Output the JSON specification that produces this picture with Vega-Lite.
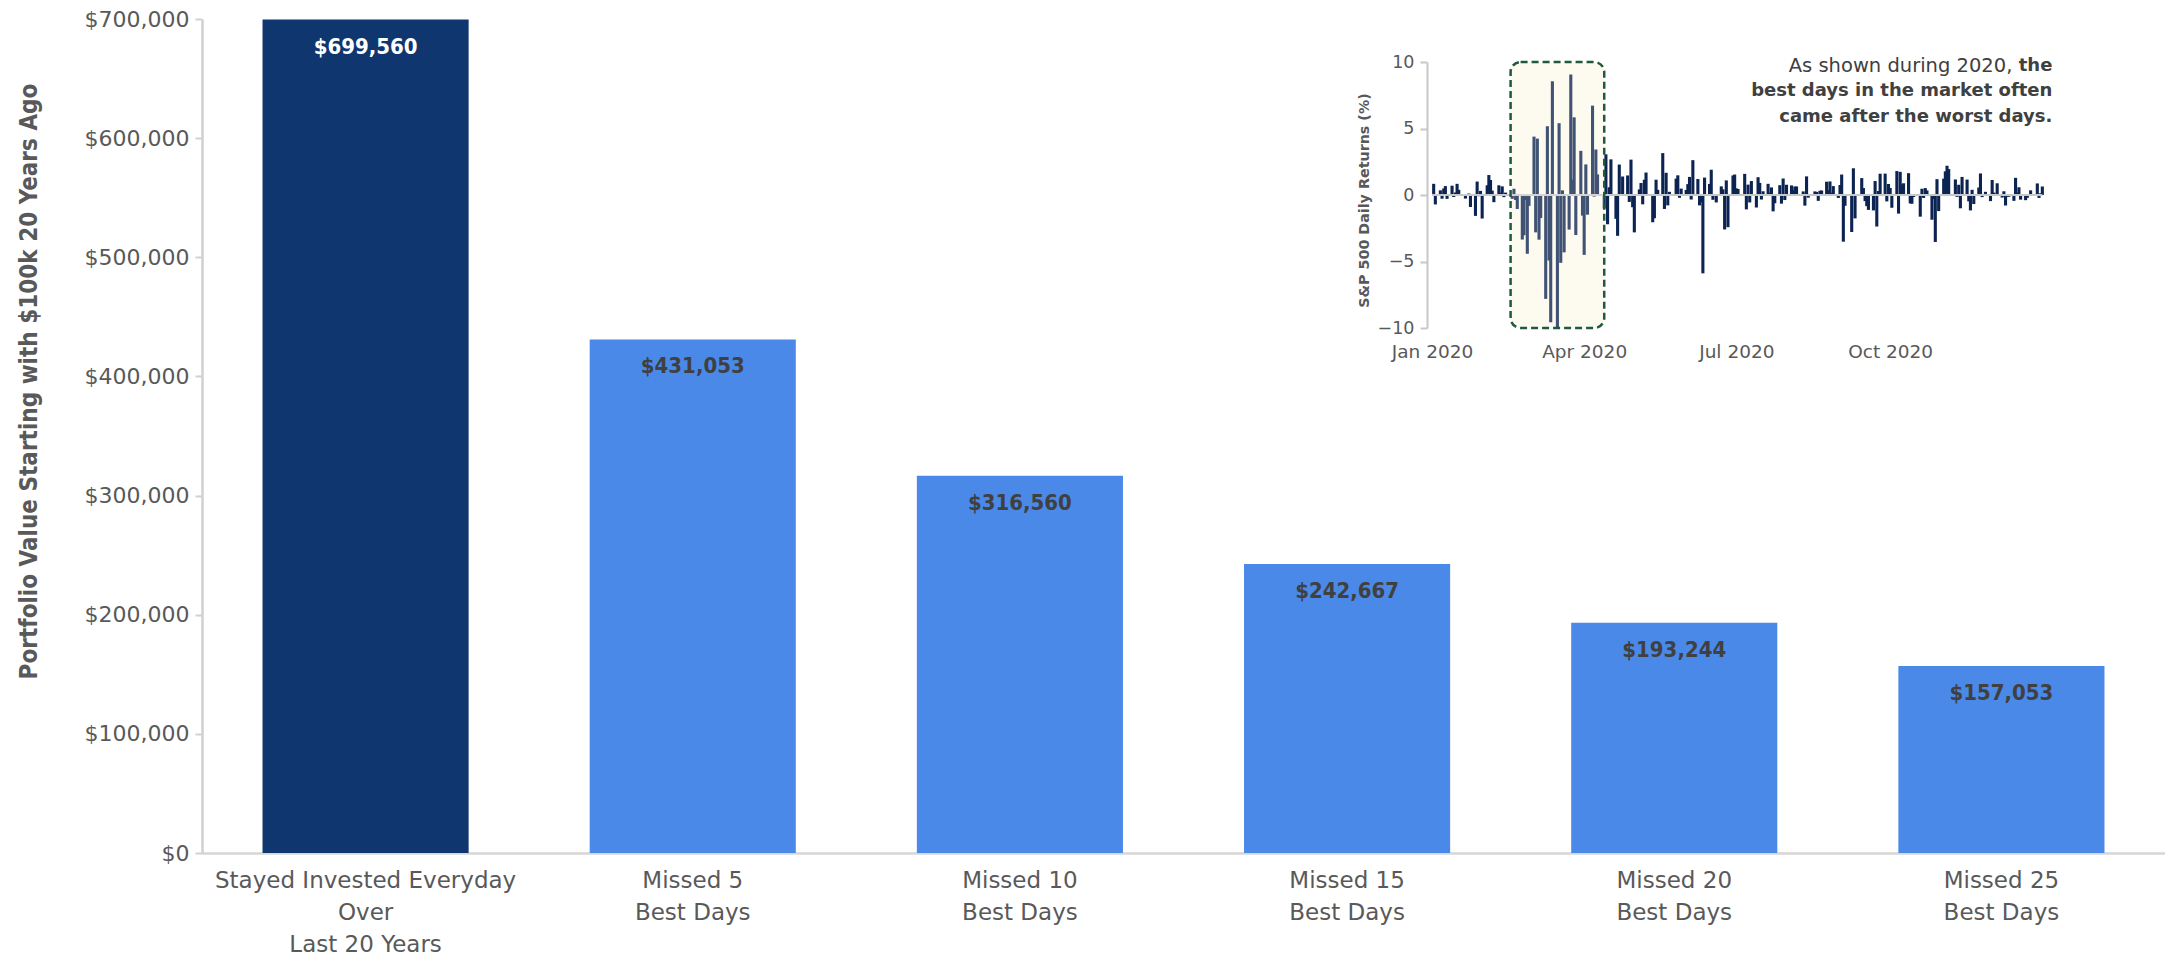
{
 "$schema": "https://vega.github.io/schema/vega-lite/v6.json",
 "width": 1963,
 "height": 834,
 "autosize": {"type": "none"},
 "padding": {"left": 202, "top": 19, "right": 0, "bottom": 102},
 "background": "#ffffff",
 "config": {"view": {"stroke": null}, "axis": {"grid": false}},
 "datasets": {
  "bars": [
   {"category": "Stayed Invested Everyday|Over|Last 20 Years", "group": "Invested", "value": 699560},
   {"category": "Missed 5|Best Days", "group": "Missed", "value": 431053},
   {"category": "Missed 10|Best Days", "group": "Missed", "value": 316560},
   {"category": "Missed 15|Best Days", "group": "Missed", "value": 242667},
   {"category": "Missed 20|Best Days", "group": "Missed", "value": 193244},
   {"category": "Missed 25|Best Days", "group": "Missed", "value": 157053}
  ],
  "box": [{"start": "2020-02-17", "end": "2020-04-13", "top": 10.1, "bottom": -10.3}],
  "annot_regular": [{"date": "2021-01-06", "v": 9.7, "t": "As shown during 2020,"}],
  "annot_bold": [
   {"date": "2021-01-06", "v": 9.7, "t": "the"},
   {"date": "2021-01-06", "v": 7.8, "t": "best days in the market often"},
   {"date": "2021-01-06", "v": 5.85, "t": "came after the worst days."}
  ],
  "returns": [
   {"date":"2020-01-02","ret":0.84},{"date":"2020-01-03","ret":-0.71},{"date":"2020-01-06","ret":0.35},{"date":"2020-01-07","ret":-0.28},{"date":"2020-01-08","ret":0.49},{"date":"2020-01-09","ret":0.67},{"date":"2020-01-10","ret":-0.29},{"date":"2020-01-13","ret":0.70},{"date":"2020-01-14","ret":-0.15},{"date":"2020-01-15","ret":0.19},{"date":"2020-01-16","ret":0.84},{"date":"2020-01-17","ret":0.39},{"date":"2020-01-21","ret":-0.27},{"date":"2020-01-22","ret":0.03},{"date":"2020-01-23","ret":0.11},{"date":"2020-01-24","ret":-0.90},{"date":"2020-01-27","ret":-1.57},{"date":"2020-01-28","ret":1.01},{"date":"2020-01-29","ret":-0.09},{"date":"2020-01-30","ret":0.31},{"date":"2020-01-31","ret":-1.77},
   {"date":"2020-02-03","ret":0.73},{"date":"2020-02-04","ret":1.50},{"date":"2020-02-05","ret":1.13},{"date":"2020-02-06","ret":0.33},{"date":"2020-02-07","ret":-0.54},{"date":"2020-02-10","ret":0.73},{"date":"2020-02-11","ret":0.17},{"date":"2020-02-12","ret":0.65},{"date":"2020-02-13","ret":-0.16},{"date":"2020-02-14","ret":0.18},{"date":"2020-02-18","ret":-0.29},{"date":"2020-02-19","ret":0.47},{"date":"2020-02-20","ret":-0.38},{"date":"2020-02-21","ret":-1.05},{"date":"2020-02-24","ret":-3.35},{"date":"2020-02-25","ret":-3.03},{"date":"2020-02-26","ret":-0.38},{"date":"2020-02-27","ret":-4.42},{"date":"2020-02-28","ret":-0.82},
   {"date":"2020-03-02","ret":4.39},{"date":"2020-03-03","ret":-2.81},{"date":"2020-03-04","ret":4.24},{"date":"2020-03-05","ret":-3.36},{"date":"2020-03-06","ret":-1.73},{"date":"2020-03-09","ret":-7.81},{"date":"2020-03-10","ret":5.17},{"date":"2020-03-11","ret":-4.93},{"date":"2020-03-12","ret":-9.57},{"date":"2020-03-13","ret":8.55},{"date":"2020-03-16","ret":-10.94},{"date":"2020-03-17","ret":5.40},{"date":"2020-03-18","ret":-5.10},{"date":"2020-03-19","ret":0.35},{"date":"2020-03-20","ret":-4.31},{"date":"2020-03-23","ret":-2.60},{"date":"2020-03-24","ret":9.06},{"date":"2020-03-25","ret":1.15},{"date":"2020-03-26","ret":5.84},{"date":"2020-03-27","ret":-3.01},{"date":"2020-03-30","ret":3.32},{"date":"2020-03-31","ret":-1.55},
   {"date":"2020-04-01","ret":-4.50},{"date":"2020-04-02","ret":2.30},{"date":"2020-04-03","ret":-1.48},{"date":"2020-04-06","ret":6.72},{"date":"2020-04-07","ret":-0.12},{"date":"2020-04-08","ret":3.42},{"date":"2020-04-09","ret":1.55},{"date":"2020-04-13","ret":-1.01},{"date":"2020-04-14","ret":3.06},{"date":"2020-04-15","ret":-2.20},{"date":"2020-04-16","ret":0.58},{"date":"2020-04-17","ret":2.68},{"date":"2020-04-20","ret":-1.79},{"date":"2020-04-21","ret":-3.07},{"date":"2020-04-22","ret":2.29},{"date":"2020-04-23","ret":-0.05},{"date":"2020-04-24","ret":1.39},{"date":"2020-04-27","ret":1.47},{"date":"2020-04-28","ret":-0.52},{"date":"2020-04-29","ret":2.66},{"date":"2020-04-30","ret":-0.92},
   {"date":"2020-05-01","ret":-2.81},{"date":"2020-05-04","ret":0.42},{"date":"2020-05-05","ret":0.90},{"date":"2020-05-06","ret":-0.70},{"date":"2020-05-07","ret":1.15},{"date":"2020-05-08","ret":1.69},{"date":"2020-05-11","ret":0.01},{"date":"2020-05-12","ret":-2.05},{"date":"2020-05-13","ret":-1.75},{"date":"2020-05-14","ret":1.15},{"date":"2020-05-15","ret":0.39},{"date":"2020-05-18","ret":3.15},{"date":"2020-05-19","ret":-1.05},{"date":"2020-05-20","ret":1.67},{"date":"2020-05-21","ret":-0.78},{"date":"2020-05-22","ret":0.24},{"date":"2020-05-26","ret":1.23},{"date":"2020-05-27","ret":1.48},{"date":"2020-05-28","ret":-0.21},{"date":"2020-05-29","ret":0.48},
   {"date":"2020-06-01","ret":0.38},{"date":"2020-06-02","ret":0.82},{"date":"2020-06-03","ret":1.36},{"date":"2020-06-04","ret":-0.34},{"date":"2020-06-05","ret":2.62},{"date":"2020-06-08","ret":1.20},{"date":"2020-06-09","ret":-0.78},{"date":"2020-06-10","ret":-0.53},{"date":"2020-06-11","ret":-5.89},{"date":"2020-06-12","ret":1.31},{"date":"2020-06-15","ret":0.83},{"date":"2020-06-16","ret":1.90},{"date":"2020-06-17","ret":-0.36},{"date":"2020-06-18","ret":0.06},{"date":"2020-06-19","ret":-0.56},{"date":"2020-06-22","ret":0.65},{"date":"2020-06-23","ret":0.43},{"date":"2020-06-24","ret":-2.59},{"date":"2020-06-25","ret":1.10},{"date":"2020-06-26","ret":-2.42},{"date":"2020-06-29","ret":1.47},{"date":"2020-06-30","ret":1.54},
   {"date":"2020-07-01","ret":0.50},{"date":"2020-07-02","ret":0.45},{"date":"2020-07-06","ret":1.59},{"date":"2020-07-07","ret":-1.08},{"date":"2020-07-08","ret":0.78},{"date":"2020-07-09","ret":-0.56},{"date":"2020-07-10","ret":1.05},{"date":"2020-07-13","ret":-0.94},{"date":"2020-07-14","ret":1.34},{"date":"2020-07-15","ret":0.91},{"date":"2020-07-16","ret":-0.34},{"date":"2020-07-17","ret":0.28},{"date":"2020-07-20","ret":0.84},{"date":"2020-07-21","ret":0.17},{"date":"2020-07-22","ret":0.57},{"date":"2020-07-23","ret":-1.23},{"date":"2020-07-24","ret":-0.62},{"date":"2020-07-27","ret":0.74},{"date":"2020-07-28","ret":-0.65},{"date":"2020-07-29","ret":1.24},{"date":"2020-07-30","ret":-0.38},{"date":"2020-07-31","ret":0.77},
   {"date":"2020-08-03","ret":0.72},{"date":"2020-08-04","ret":0.36},{"date":"2020-08-05","ret":0.64},{"date":"2020-08-06","ret":0.64},{"date":"2020-08-07","ret":0.06},{"date":"2020-08-10","ret":0.27},{"date":"2020-08-11","ret":-0.80},{"date":"2020-08-12","ret":1.40},{"date":"2020-08-13","ret":-0.20},{"date":"2020-08-14","ret":-0.02},{"date":"2020-08-17","ret":0.27},{"date":"2020-08-18","ret":0.23},{"date":"2020-08-19","ret":-0.44},{"date":"2020-08-20","ret":0.32},{"date":"2020-08-21","ret":0.34},{"date":"2020-08-24","ret":1.00},{"date":"2020-08-25","ret":0.36},{"date":"2020-08-26","ret":1.02},{"date":"2020-08-27","ret":0.17},{"date":"2020-08-28","ret":0.67},{"date":"2020-08-31","ret":-0.22},
   {"date":"2020-09-01","ret":0.75},{"date":"2020-09-02","ret":1.54},{"date":"2020-09-03","ret":-3.51},{"date":"2020-09-04","ret":-0.81},{"date":"2020-09-08","ret":-2.78},{"date":"2020-09-09","ret":2.01},{"date":"2020-09-10","ret":-1.76},{"date":"2020-09-11","ret":0.05},{"date":"2020-09-14","ret":1.27},{"date":"2020-09-15","ret":0.52},{"date":"2020-09-16","ret":-0.46},{"date":"2020-09-17","ret":-0.84},{"date":"2020-09-18","ret":-1.12},{"date":"2020-09-21","ret":-1.16},{"date":"2020-09-22","ret":1.05},{"date":"2020-09-23","ret":-2.37},{"date":"2020-09-24","ret":0.30},{"date":"2020-09-25","ret":1.60},{"date":"2020-09-28","ret":1.61},{"date":"2020-09-29","ret":-0.48},{"date":"2020-09-30","ret":0.83},
   {"date":"2020-10-01","ret":0.53},{"date":"2020-10-02","ret":-0.96},{"date":"2020-10-05","ret":1.80},{"date":"2020-10-06","ret":-1.40},{"date":"2020-10-07","ret":1.74},{"date":"2020-10-08","ret":0.80},{"date":"2020-10-09","ret":0.88},{"date":"2020-10-12","ret":1.64},{"date":"2020-10-13","ret":-0.63},{"date":"2020-10-14","ret":-0.66},{"date":"2020-10-15","ret":-0.15},{"date":"2020-10-16","ret":0.01},{"date":"2020-10-19","ret":-1.63},{"date":"2020-10-20","ret":0.47},{"date":"2020-10-21","ret":-0.22},{"date":"2020-10-22","ret":0.52},{"date":"2020-10-23","ret":0.34},{"date":"2020-10-26","ret":-1.86},{"date":"2020-10-27","ret":-0.30},{"date":"2020-10-28","ret":-3.53},{"date":"2020-10-29","ret":1.19},{"date":"2020-10-30","ret":-1.21},
   {"date":"2020-11-02","ret":1.23},{"date":"2020-11-03","ret":1.78},{"date":"2020-11-04","ret":2.20},{"date":"2020-11-05","ret":1.95},{"date":"2020-11-06","ret":-0.03},{"date":"2020-11-09","ret":1.17},{"date":"2020-11-10","ret":-0.14},{"date":"2020-11-11","ret":0.77},{"date":"2020-11-12","ret":-1.00},{"date":"2020-11-13","ret":1.36},{"date":"2020-11-16","ret":1.16},{"date":"2020-11-17","ret":-0.48},{"date":"2020-11-18","ret":-1.16},{"date":"2020-11-19","ret":0.39},{"date":"2020-11-20","ret":-0.68},{"date":"2020-11-23","ret":0.56},{"date":"2020-11-24","ret":1.62},{"date":"2020-11-25","ret":-0.16},{"date":"2020-11-27","ret":0.24},{"date":"2020-11-30","ret":-0.46},
   {"date":"2020-12-01","ret":1.13},{"date":"2020-12-02","ret":0.18},{"date":"2020-12-03","ret":-0.06},{"date":"2020-12-04","ret":0.88},{"date":"2020-12-07","ret":-0.19},{"date":"2020-12-08","ret":0.28},{"date":"2020-12-09","ret":-0.79},{"date":"2020-12-10","ret":-0.13},{"date":"2020-12-11","ret":-0.13},{"date":"2020-12-14","ret":-0.44},{"date":"2020-12-15","ret":1.29},{"date":"2020-12-16","ret":0.18},{"date":"2020-12-17","ret":0.58},{"date":"2020-12-18","ret":-0.35},{"date":"2020-12-21","ret":-0.39},{"date":"2020-12-22","ret":-0.21},{"date":"2020-12-23","ret":0.07},{"date":"2020-12-24","ret":0.35},{"date":"2020-12-28","ret":0.87},{"date":"2020-12-29","ret":-0.22},{"date":"2020-12-30","ret":0.13},{"date":"2020-12-31","ret":0.64}
  ]
 },
 "layer": [
  {
   "data": {"name": "bars"},
   "encoding": {
    "x": {"field": "category", "type": "nominal", "sort": null,
     "scale": {"paddingInner": 0.37, "paddingOuter": 0.185},
     "axis": {"title": null, "labelAngle": 0, "labelExpr": "split(datum.value, '|')",
      "labelFont": "DejaVu Sans", "labelFontSize": 23, "labelColor": "#595959",
      "labelLineHeight": 32, "labelPadding": 16, "labelLimit": 0, "labelOverlap": false,
      "ticks": false, "domainColor": "#d6d6d6", "domainWidth": 2.5}},
    "y": {"field": "value", "type": "quantitative",
     "scale": {"domain": [0, 700000], "nice": false},
     "axis": {"title": "Portfolio Value Starting with $100k 20 Years Ago",
      "values": [0, 100000, 200000, 300000, 400000, 500000, 600000, 700000],
      "format": "$,.0f", "labelFont": "DejaVu Sans", "labelFontSize": 22, "labelColor": "#595959",
      "labelPadding": 6, "labelFlush": false, "tickSize": 7, "tickColor": "#d0d0d0", "tickWidth": 2,
      "domainColor": "#d0d0d0", "domainWidth": 2.5,
      "titleFont": "DejaVu Sans Condensed, DejaVu Sans", "titleFontSize": 24, "titleFontWeight": "bold",
      "titleColor": "#595959", "titleX": -173, "titleY": 362, "titleAngle": -90,
      "titleAlign": "center", "titleBaseline": "middle"}}
   },
   "layer": [
    {"mark": {"type": "bar"},
     "encoding": {"color": {"field": "group", "type": "nominal",
      "scale": {"domain": ["Invested", "Missed"], "range": ["#10366f", "#4a89e8"]}, "legend": null}}},
    {"mark": {"type": "text", "baseline": "middle", "dy": 27, "font": "DejaVu Sans Condensed, DejaVu Sans", "fontSize": 22, "fontWeight": "bold"},
     "encoding": {"text": {"field": "value", "format": "$,.0f"},
      "color": {"condition": {"test": "datum.group === 'Invested'", "value": "#ffffff"}, "value": "#404040"}}}
   ]
  },
  {
   "layer": [
    {"data": {"name": "box"},
     "mark": {"type": "rect", "fill": "#fdfaf0", "cornerRadius": 10},
     "encoding": {
      "x": {"field": "start", "type": "temporal",
       "scale": {"type": "utc", "domain": [{"year": 2020, "month": 1, "date": 1, "utc": true}, {"year": 2021, "month": 1, "date": 1, "utc": true}], "range": [1225, 1847]},
       "axis": {"orient": "bottom", "offset": -525, "title": null,
        "values": [{"year": 2020, "month": 1, "date": 1, "utc": true}, {"year": 2020, "month": 4, "date": 1, "utc": true}, {"year": 2020, "month": 7, "date": 1, "utc": true}, {"year": 2020, "month": 10, "date": 1, "utc": true}],
        "format": "%b %Y", "labelFont": "DejaVu Sans", "labelFontSize": 18.5, "labelColor": "#595959",
        "labelPadding": 14, "labelFlush": false, "labelOverlap": false, "domain": false, "ticks": false}},
      "x2": {"field": "end"},
      "y": {"field": "top", "type": "quantitative",
       "scale": {"domain": [-10, 10], "nice": false, "clamp": true, "range": [309, 43]},
       "axis": {"orient": "left", "offset": -1225, "title": "S&P 500 Daily Returns (%)",
        "values": [-10, -5, 0, 5, 10], "labelFont": "DejaVu Sans", "labelFontSize": 17.5, "labelColor": "#595959",
        "labelPadding": 6, "labelFlush": false, "tickSize": 7, "tickColor": "#c8c8c8", "tickWidth": 2,
        "domainColor": "#c8c8c8", "domainWidth": 2,
        "titleFont": "DejaVu Sans", "titleFontSize": 14.3, "titleFontWeight": "bold", "titleColor": "#595959",
        "titleX": -63, "titleY": 181, "titleAngle": -90, "titleAlign": "center", "titleBaseline": "middle"}},
      "y2": {"field": "bottom"}}},
    {"data": {"name": "returns"},
     "mark": {"type": "bar", "color": "#0c2452", "width": 3.1},
     "encoding": {"x": {"field": "date", "type": "temporal"}, "y": {"field": "ret", "type": "quantitative"}}},
    {"data": {"name": "box"},
     "mark": {"type": "rule", "color": "#c8c8c8", "strokeWidth": 2},
     "encoding": {
      "x": {"datum": {"year": 2020, "month": 1, "date": 1, "utc": true}, "type": "temporal"},
      "x2": {"datum": {"year": 2020, "month": 12, "date": 31, "utc": true}},
      "y": {"datum": 0, "type": "quantitative"}}},
    {"data": {"name": "box"},
     "mark": {"type": "rect", "fill": "#fdfaf0", "fillOpacity": 0.22, "stroke": "#1f5a3c", "strokeWidth": 2.5, "strokeDash": [7, 4], "cornerRadius": 10},
     "encoding": {"x": {"field": "start", "type": "temporal"}, "x2": {"field": "end"}, "y": {"field": "top", "type": "quantitative"}, "y2": {"field": "bottom"}}},
    {"data": {"name": "annot_regular"},
     "mark": {"type": "text", "align": "right", "baseline": "middle", "dx": -40, "font": "DejaVu Sans", "fontSize": 19.5, "color": "#404040"},
     "encoding": {"x": {"field": "date", "type": "temporal"}, "y": {"field": "v", "type": "quantitative"}, "text": {"field": "t"}}},
    {"data": {"name": "annot_bold"},
     "mark": {"type": "text", "align": "right", "baseline": "middle", "font": "DejaVu Sans", "fontSize": 18, "fontWeight": "bold", "color": "#404040"},
     "encoding": {"x": {"field": "date", "type": "temporal"}, "y": {"field": "v", "type": "quantitative"}, "text": {"field": "t"}}}
   ]
  }
 ],
 "resolve": {"scale": {"x": "independent", "y": "independent", "color": "independent"}}
}
